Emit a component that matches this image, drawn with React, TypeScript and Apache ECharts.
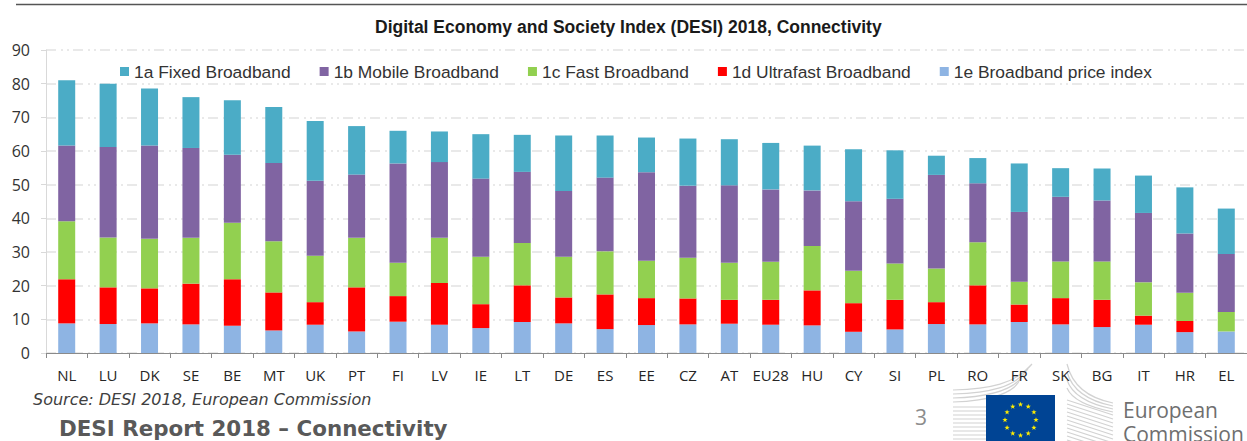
import React, { useEffect, useRef } from "react";
import * as echarts from "echarts";

const countries = ["NL","LU","DK","SE","BE","MT","UK","PT","FI","LV","IE","LT","DE","ES","EE","CZ","AT","EU28","HU","CY","SI","PL","RO","FR","SK","BG","IT","HR","EL"];
const priceIndex = [8.8,8.6,8.8,8.5,8.1,6.7,8.4,6.4,9.3,8.4,7.4,9.2,8.8,7.1,8.3,8.5,8.7,8.4,8.2,6.3,7.0,8.6,8.5,9.2,8.5,7.7,8.4,6.2,6.4];
const ultrafast = [13.1,10.9,10.4,12.1,13.8,11.3,6.7,13.1,7.6,12.4,7.1,10.9,7.7,10.3,8.0,7.7,7.1,7.4,10.4,8.5,8.8,6.5,11.6,5.2,7.8,8.1,2.7,3.3,0];
const fast = [17.2,14.8,14.7,13.6,16.8,15.2,13.8,14.7,9.9,13.4,14.1,12.6,12.1,12.8,11.1,12.1,11.0,11.3,13.2,9.6,10.8,10.0,12.8,6.8,10.9,11.4,9.9,8.4,5.8];
const mobile = [22.5,26.9,27.7,26.7,20.2,23.2,22.3,18.8,29.5,22.5,23.2,21.1,19.5,21.9,26.3,21.4,23.0,21.5,16.5,20.7,19.2,27.8,17.5,20.7,19.2,18.1,20.6,17.6,17.2];
const fixed = [19.4,18.8,17.0,15.1,16.2,16.7,17.7,14.4,9.7,9.1,13.2,11.0,16.5,12.5,10.3,14.0,13.7,13.8,13.3,15.4,14.4,5.7,7.5,14.4,8.5,9.5,11.1,13.7,13.5];

const chartTitle = "Digital Economy and Society Index (DESI) 2018, Connectivity";
const legendOrder = ["1a Fixed Broadband","1b Mobile Broadband","1c Fast Broadband","1d Ultrafast Broadband","1e Broadband price index"];

function star(cx: number, cy: number, r: number) {
  const pts: number[][] = [];
  for (let i = 0; i < 10; i++) {
    const rad = i % 2 === 0 ? r : r * 0.4;
    const a = -Math.PI / 2 + (i * Math.PI) / 5;
    pts.push([cx + rad * Math.cos(a), cy + rad * Math.sin(a)]);
  }
  return pts;
}

function buildGraphics() {
  const els: any[] = [];
  const gray = "#d2d2d2";
  const ln = (x1: number, y1: number, x2: number, y2: number, c = gray) =>
    els.push({ type: "line", silent: true, shape: { x1, y1, x2, y2 }, style: { stroke: c, lineWidth: 1.2 } });
  // rule at the top of the page
  els.push({ type: "line", silent: true, shape: { x1: 16, y1: 4.5, x2: 1247, y2: 4.5 }, style: { stroke: "#555555", lineWidth: 1.3 } });
  // left fan of the Commission logo
  for (let i = 0; i < 4; i++) {
    els.push({ type: "bezierCurve", silent: true, shape: { x1: 953, y1: 390 + i * 4, cpx1: 990, cpy1: 389 + i * 4, cpx2: 1015, cpy2: 384 + i * 3, x2: 1032 - i * 4, y2: 364 + i * 5 }, style: { stroke: gray, lineWidth: 1.2, fill: "none" } });
  }
  for (let y = 407; y < 441; y += 4) ln(953, y, 986, y);
  // right fan of the Commission logo
  for (let i = 0; i < 4; i++) {
    els.push({ type: "bezierCurve", silent: true, shape: { x1: 1067, y1: 364 + i * 8, cpx1: 1072, cpy1: 385 + i * 5, cpx2: 1088, cpy2: 398 + i * 3, x2: 1113, y2: 403 + i * 3 }, style: { stroke: gray, lineWidth: 1.2, fill: "none" } });
  }
  for (let y = 400; y < 441; y += 4) ln(1067, y, 1113, y + 15);
  // flag
  els.push({ type: "rect", silent: true, shape: { x: 986, y: 395, width: 69, height: 46 }, style: { fill: "#004494" } });
  for (let i = 0; i < 12; i++) {
    const a = (i * Math.PI) / 6;
    els.push({ type: "polygon", silent: true, shape: { points: star(1020.5 + 15.5 * Math.sin(a), 420 - 15.5 * Math.cos(a), 2.8) }, style: { fill: "#ffed00" } });
  }
  const txt = (text: string, x: number, y: number, font: string, fill: string) =>
    els.push({ type: "text", silent: true, x, y, style: { text, font, fill, verticalAlign: "middle", align: "left" } });
  txt("Source: DESI 2018, European Commission", 33, 399, "italic 16px 'DejaVu Sans'", "#404040");
  txt("DESI Report 2018 \u2013 Connectivity", 59, 428, "bold 21.4px 'DejaVu Sans'", "#595959");
  txt("3", 915, 417, "21px 'Open Sans'", "#8c8c8c");
  txt("European", 1123, 410, "21px 'Open Sans'", "#6f6f6f");
  txt("Commission", 1123, 434, "21px 'Open Sans'", "#6f6f6f");
  return els;
}

export default function App() {
  const ref = useRef<HTMLDivElement>(null);
  useEffect(() => {
    const chart = echarts.init(ref.current!, undefined, { renderer: "svg" });
    const mk = (name: string, data: number[], color: string) => ({
      name, type: "bar", stack: "desi", data, barWidth: 17,
      itemStyle: { color }, emphasis: { disabled: true },
    });
    chart.setOption({
      animation: false,
      backgroundColor: "#ffffff",
      title: {
        text: chartTitle, left: 375, top: 18, padding: 0,
        textStyle: { fontFamily: "'Liberation Sans'", fontWeight: "bold", fontSize: 17.5, color: "#1a1a1a" },
      },
      legend: {
        left: 120, top: 63, padding: 0, itemWidth: 9, itemHeight: 9, itemGap: 29, icon: "rect",
        data: legendOrder, selectedMode: false,
        textStyle: { fontFamily: "'Liberation Sans'", fontSize: 17.4, color: "#333333" },
      },
      grid: { left: 46, top: 50, width: 1208, height: 303 },
      xAxis: {
        type: "category", data: countries,
        axisLine: { lineStyle: { color: "#8a8a8a", width: 1 } },
        axisTick: { show: true, alignWithLabel: false, length: 5, lineStyle: { color: "#8a8a8a" } },
        axisLabel: { interval: 0, fontFamily: "'Open Sans'", fontSize: 15, color: "#262626", margin: 14 },
      },
      yAxis: {
        type: "value", min: 0, max: 90, interval: 10,
        axisLine: { show: true, lineStyle: { color: "#d9d9d9", width: 1 } },
        axisTick: { show: true, length: 5, lineStyle: { color: "#d9d9d9" } },
        axisLabel: { fontFamily: "'Open Sans'", fontSize: 16, color: "#333333", margin: 16 },
        splitLine: { show: true, lineStyle: { color: "#e2e2e2", width: 1.5, type: [10, 5, 2, 4, 2, 4] } },
      },
      series: [
        mk(legendOrder[4], priceIndex, "#8EB4E3"),
        mk(legendOrder[3], ultrafast, "#FF0000"),
        mk(legendOrder[2], fast, "#92D050"),
        mk(legendOrder[1], mobile, "#8064A2"),
        mk(legendOrder[0], fixed, "#4BACC6"),
      ],
      graphic: { elements: buildGraphics() },
    });
    return () => chart.dispose();
  }, []);
  return (
    <div style={{ position: "fixed", left: 0, top: 0, width: 1247, height: 441, overflow: "hidden", background: "#fff" }}>
      <div ref={ref} style={{ width: 1247, height: 441 }} />
    </div>
  );
}
